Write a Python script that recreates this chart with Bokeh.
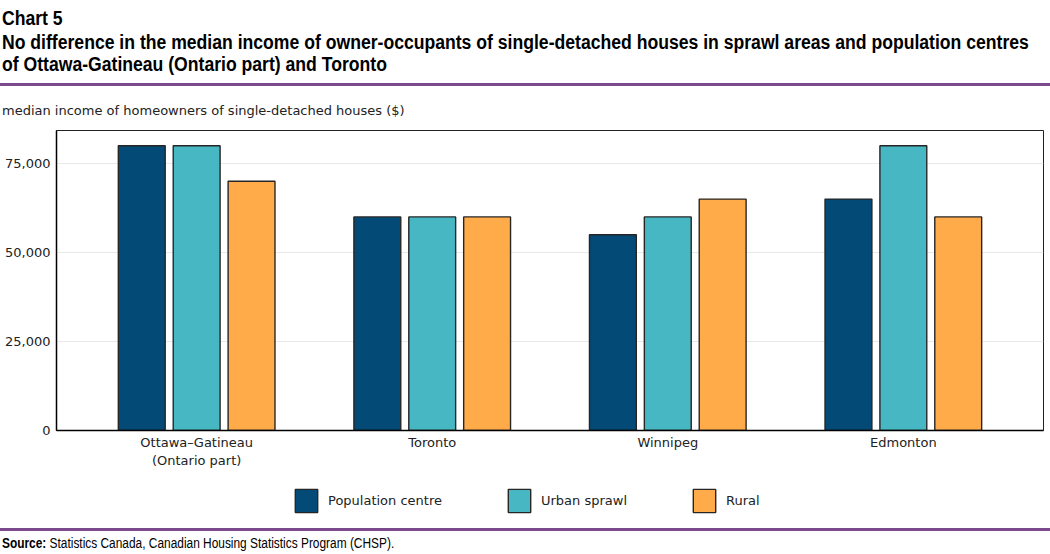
from bokeh.plotting import figure
from bokeh.layouts import column
from bokeh.models import (ColumnDataSource, Range1d, FixedTicker, Legend,
                          LegendItem, NumeralTickFormatter, Div)
from bokeh.embed import file_html
from bokeh.resources import INLINE

# ---- data -------------------------------------------------------------
cities = ["Ottawa\u2013Gatineau\n(Ontario part)", "Toronto", "Winnipeg", "Edmonton"]
series = ["Population centre", "Urban sprawl", "Rural"]
population_centre = [80000, 60000, 55000, 65000]
urban_sprawl = [80000, 60000, 60000, 80000]
rural = [70000, 60000, 65000, 60000]
y_ticks = [0, 25000, 50000, 75000]

chart_number = "Chart 5"
title_lines = ["No difference in the median income of owner-occupants of single-detached houses in sprawl areas and population centres",
               "of Ottawa-Gatineau (Ontario part) and Toronto"]
y_caption = "median income of homeowners of single-detached houses ($)"
source_note = "Statistics Canada, Canadian Housing Statistics Program (CHSP)."

colors = ["#034a77", "#46b7c3", "#ffab4a"]
offsets = [-0.233, 0.0, 0.233]
bar_width = 0.199

W = 1050
LEFT, RIGHT = 56, 7
PURPLE = "#7a4a8c"
OUTLINE = "#262626"
BODY_FONT = "DejaVu Sans"
NARROW = ("font-family:'Liberation Sans',Arial,sans-serif;white-space:nowrap;"
          "transform-origin:0 0;line-height:1;")

# ---- header: chart number, title, rule, y caption ----------------------
header_html = f"""
<div style="position:relative;width:{W}px;height:120px;color:#000;">
  <div style="position:absolute;left:2px;top:8px;font-size:20px;font-weight:bold;{NARROW}transform:scaleX(0.88);">{chart_number}</div>
  <div style="position:absolute;left:2px;top:32px;font-size:20px;font-weight:bold;{NARROW}transform:scaleX(0.88);">{title_lines[0]}</div>
  <div style="position:absolute;left:2px;top:54px;font-size:20px;font-weight:bold;{NARROW}transform:scaleX(0.88);">{title_lines[1]}</div>
  <div style="position:absolute;left:0;top:83px;width:{W}px;height:3px;background:{PURPLE};"></div>
  <div style="position:absolute;left:2px;top:104px;font-family:'DejaVu Sans',sans-serif;font-size:13px;line-height:1;white-space:nowrap;color:#222;">{y_caption}</div>
</div>
"""
header = Div(text=header_html, width=W, height=120, margin=0)

# ---- main chart -------------------------------------------------------
n = len(cities)
p = figure(width=W, height=350, x_range=Range1d(-0.595, n - 1 + 0.595),
           y_range=Range1d(0, 84270), toolbar_location=None,
           output_backend="svg", min_border_top=10, min_border_bottom=40,
           min_border_left=LEFT, min_border_right=RIGHT)

values = [population_centre, urban_sprawl, rural]
for vals, off, col in zip(values, offsets, colors):
    src = ColumnDataSource(dict(x=[i + off for i in range(n)], top=vals))
    p.vbar(x="x", top="top", width=bar_width, source=src, fill_color=col,
           line_color=OUTLINE, line_width=1.4)

p.outline_line_color = "#222222"
p.outline_line_width = 1
p.xgrid.grid_line_color = None
p.ygrid.grid_line_color = "#e8e8e8"
p.ygrid.grid_line_width = 1

p.yaxis.ticker = FixedTicker(ticks=y_ticks)
p.yaxis.formatter = NumeralTickFormatter(format="0,0")
p.xaxis.ticker = FixedTicker(ticks=list(range(n)))
p.xaxis.major_label_overrides = {i: c for i, c in enumerate(cities)}

for ax in (p.xaxis[0], p.yaxis[0]):
    ax.axis_line_color = "#000000"
    ax.axis_line_width = 1.5
    ax.major_tick_line_color = None
    ax.minor_tick_line_color = None
    ax.major_tick_out = 0
    ax.major_tick_in = 0
    ax.major_label_text_font = BODY_FONT
    ax.major_label_text_font_size = "13px"
    ax.major_label_text_color = "#222222"
p.yaxis.major_label_standoff = 6
p.xaxis.major_label_standoff = 4

# ---- legend strip (key glyphs carry no drawable value) -----------------
lg = figure(width=W, height=50, x_range=Range1d(0, 1), y_range=Range1d(0, 1),
            toolbar_location=None, output_backend="svg", min_border_top=0,
            min_border_bottom=0, min_border_left=LEFT, min_border_right=RIGHT,
            x_axis_location=None, y_axis_location=None)
lg.outline_line_color = None
lg.grid.visible = False
keys = [lg.vbar(x=[0.5], top=[float("nan")], width=0.1, fill_color=col,
                line_color=OUTLINE, line_width=1.4) for col in colors]
legend = Legend(items=[LegendItem(label=nm, renderers=[r]) for nm, r in zip(series, keys)],
                orientation="horizontal", location=(236, 5),
                glyph_width=28, glyph_height=29, label_standoff=8, spacing=63,
                padding=0, margin=0, border_line_color=None,
                background_fill_alpha=0, label_text_font=BODY_FONT,
                label_text_font_size="13px", label_text_color="#222222",
                label_text_baseline="middle")
lg.add_layout(legend, "center")

# ---- footer: rule and source note -------------------------------------
footer_html = f"""
<div style="position:relative;width:{W}px;height:34px;color:#000;">
  <div style="position:absolute;left:0;top:8px;width:{W}px;height:3px;background:{PURPLE};"></div>
  <div style="position:absolute;left:2px;top:16px;font-size:14px;{NARROW}transform:scaleX(0.85);"><b>Source:</b> {source_note}</div>
</div>
"""
footer = Div(text=footer_html, width=W, height=34, margin=0)

layout = column(header, p, lg, footer, spacing=0)
open("out.html", "w").write(file_html(layout, INLINE))
